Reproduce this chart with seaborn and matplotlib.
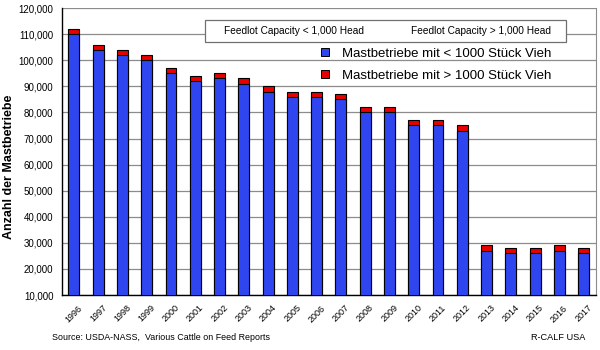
#!/usr/bin/env python3
"""Feedlot counts by capacity class, 1996-2017 (stacked bars)."""

import matplotlib
matplotlib.use("Agg")
import matplotlib.pyplot as plt
import matplotlib.ticker as mticker
from matplotlib.lines import Line2D
from matplotlib.patches import Rectangle
import pandas as pd
import seaborn as sns

# %% Data
years = [str(y) for y in range(1996, 2018)]
small_feedlots = [110000, 104000, 102000, 100000, 95000, 92000, 93000, 91000, 88000, 86000, 86000,
                  85000, 80000, 80000, 75000, 75000, 73000, 27000, 26000, 26000, 27000, 26000]
large_feedlots = [2000, 2000, 2000, 2000, 2000, 2000, 2000, 2000, 2000, 2000, 2000,
                  2000, 2000, 2000, 2000, 2000, 2000, 2000, 2000, 2000, 2000, 2000]
y_ticks = list(range(10000, 120001, 10000))

blue = "#2f45f0"
red = "#e80000"

df = pd.DataFrame({"year": years, "small": small_feedlots, "large": large_feedlots})
df["total"] = df["small"] + df["large"]

# %% Plot
sns.set_style("white")
plt.rcParams["font.family"] = ["Liberation Sans", "DejaVu Sans"]
plt.rcParams["text.color"] = "black"
plt.rcParams["xtick.color"] = "black"
plt.rcParams["ytick.color"] = "black"
plt.rcParams["axes.labelcolor"] = "black"

fig = plt.figure(figsize=(6, 3.5), dpi=100)
ax = fig.add_axes([0.103, 0.157, 0.890, 0.820])

sns.barplot(data=df, x="year", y="total", color=red, width=0.45, saturation=1,
            edgecolor="black", linewidth=0.8, ax=ax, zorder=3)
sns.barplot(data=df, x="year", y="small", color=blue, width=0.45, saturation=1,
            edgecolor="black", linewidth=0.8, ax=ax, zorder=4)

ax.set_ylim(10000, 120000)
ax.set_xlim(-0.5, len(years) - 0.5)
ax.set_yticks(y_ticks)
ax.yaxis.set_major_formatter(mticker.FuncFormatter(lambda v, _: f"{int(v):,}"))
ax.yaxis.grid(True, color="#8c8c8c", linewidth=0.9, zorder=0)
ax.set_axisbelow(True)

ax.set_xticks(range(len(years)))
ax.set_xticklabels(years, rotation=45, ha="center", fontsize=6.5)
ax.set_xticks([i + 0.5 for i in range(-1, len(years))], minor=True)
ax.tick_params(axis="x", which="major", length=0, pad=6)
ax.tick_params(axis="x", which="minor", length=4, width=0.9, color="black", direction="out")
ax.tick_params(axis="y", length=4, width=0.9, color="black", direction="out", labelsize=7, pad=2)

ax.set_xlabel("")
ax.set_ylabel("Anzahl der Mastbetriebe", fontsize=9, fontweight="bold")
ax.yaxis.set_label_coords(-0.088, 0.446)

for side in ["left", "bottom"]:
    ax.spines[side].set_color("black")
    ax.spines[side].set_linewidth(1.0)
ax.spines["right"].set_color("#8c8c8c")
ax.spines["top"].set_visible(False)

# English legend box (text only)
ax.add_patch(Rectangle((0.268, 0.882), 0.676, 0.076, transform=ax.transAxes,
                       facecolor="white", edgecolor="#707070", linewidth=0.9, zorder=6))
ax.text(0.303, 0.920, "Feedlot Capacity < 1,000 Head", transform=ax.transAxes,
        fontsize=7.3, va="center", ha="left", zorder=7)
ax.text(0.654, 0.920, "Feedlot Capacity > 1,000 Head", transform=ax.transAxes,
        fontsize=7.3, va="center", ha="left", zorder=7)

handles = [
    Line2D([], [], marker="s", linestyle="none", markersize=5.5, markerfacecolor=blue,
           markeredgecolor="black", markeredgewidth=0.7),
    Line2D([], [], marker="s", linestyle="none", markersize=5.5, markerfacecolor=red,
           markeredgecolor="black", markeredgewidth=0.7),
]
leg = ax.legend(handles, ["Mastbetriebe mit < 1000 Stück Vieh", "Mastbetriebe mit > 1000 Stück Vieh"],
                loc="upper left", bbox_to_anchor=(0.458, 0.881), frameon=False, fontsize=9.5,
                handletextpad=0.3, labelspacing=0.75, borderaxespad=0)
leg.set_zorder(7)

fig.text(0.087, 0.028, "Source: USDA-NASS,  Various Cattle on Feed Reports", fontsize=6.4, ha="left")
fig.text(0.975, 0.028, "R-CALF USA", fontsize=6.6, ha="right")

fig.savefig("out.png", dpi=100)
